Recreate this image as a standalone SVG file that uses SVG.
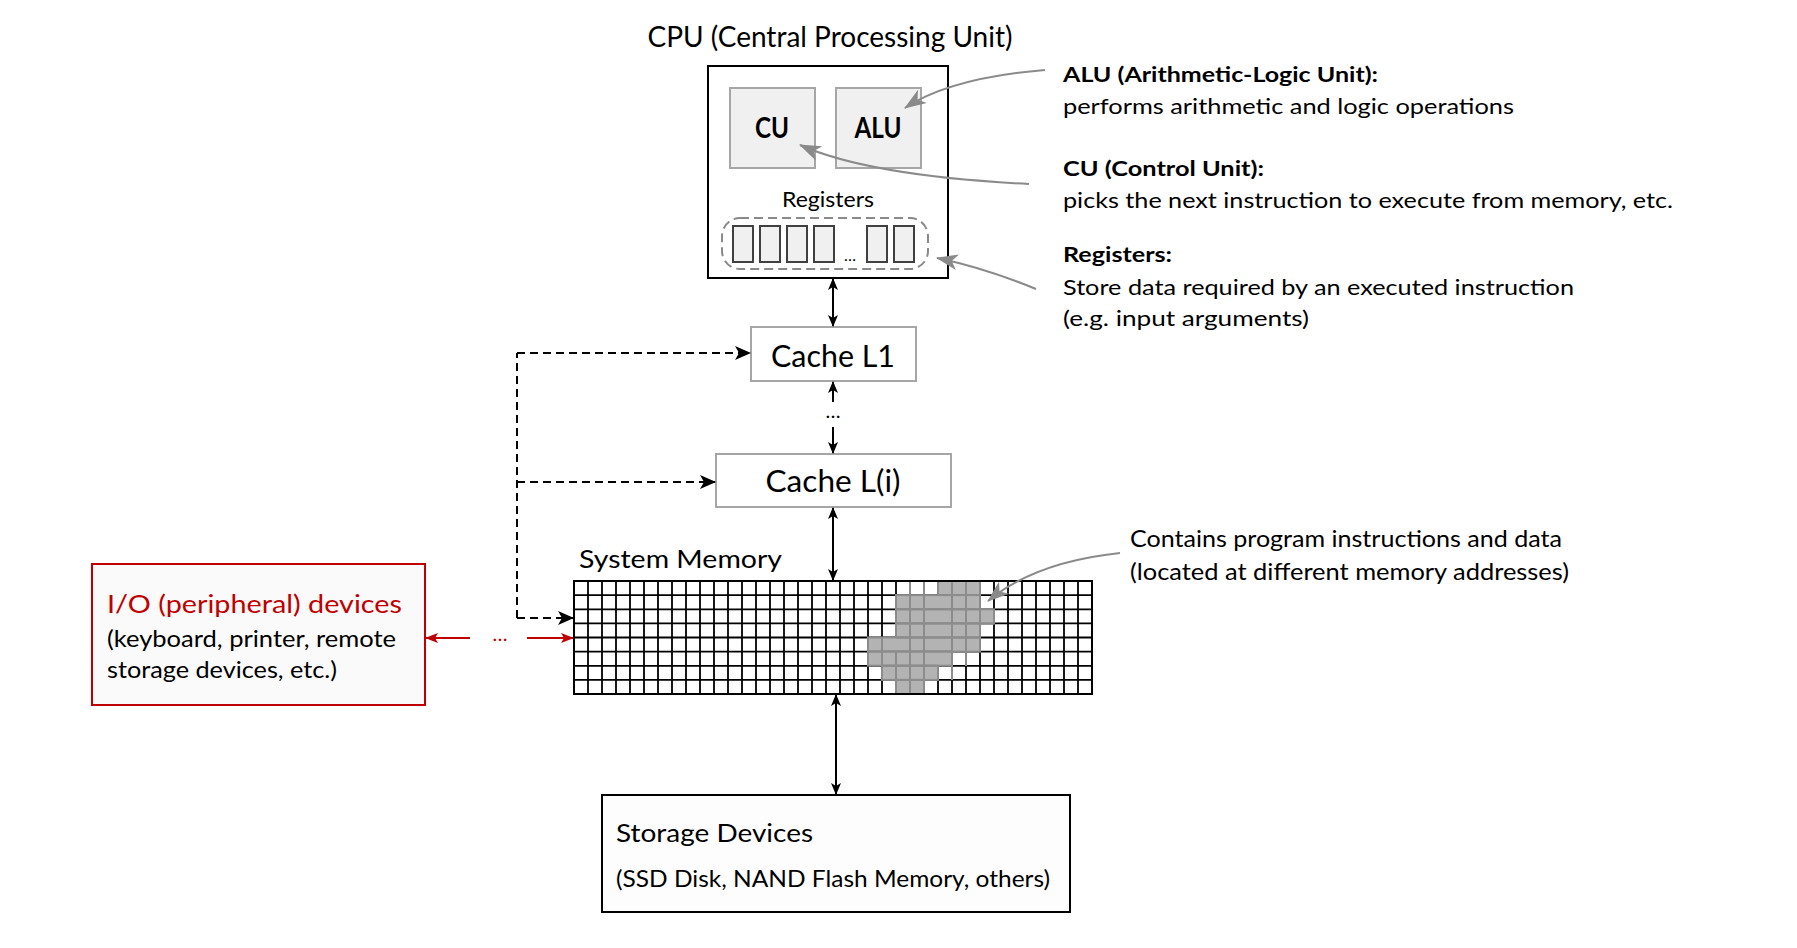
<svg xmlns="http://www.w3.org/2000/svg" width="1797" height="948" viewBox="0 0 1797 948">
<style>
text{font-family:Lato,"Liberation Sans",sans-serif;fill:#000}
.b{font-weight:bold}
.red{fill:#c00000}
.box{fill:#fff;stroke:#a6a6a6;stroke-width:2}
.unit{fill:#f0f0f0;stroke:#a6a6a6;stroke-width:2}
.reg{fill:#f0f0f0;stroke:#404040;stroke-width:2}
.blk{stroke:#000;stroke-width:2;fill:none}
.dash{stroke:#000;stroke-width:2;fill:none;stroke-dasharray:8 5}
.gray{stroke:#8a8a8a;stroke-width:2;fill:none}
.redl{stroke:#c00000;stroke-width:2;fill:none}
.gl{stroke:#000;stroke-width:1.8;fill:none}
.gc{fill:#b3b3b3;stroke:#8c8c8c;stroke-width:2}
</style>
<defs>
<marker id="ah" viewBox="0 0 12 10" refX="11" refY="5" markerWidth="12" markerHeight="10" markerUnits="userSpaceOnUse" orient="auto-start-reverse"><path d="M0,0 L12,5 L0,10 L3,5 z" fill="#000"/></marker>
<marker id="ahd" viewBox="0 0 16 14" refX="15" refY="7" markerWidth="16" markerHeight="14" markerUnits="userSpaceOnUse" orient="auto"><path d="M0,0 L16,7 L0,14 L4,7 z" fill="#000"/></marker>
<marker id="ahg" viewBox="0 0 22 16" refX="21" refY="8" markerWidth="22" markerHeight="16" markerUnits="userSpaceOnUse" orient="auto"><path d="M0,0 L22,8 L0,16 L6,8 z" fill="#8a8a8a"/></marker>
<marker id="ahr" viewBox="0 0 13 10" refX="12" refY="5" markerWidth="13" markerHeight="10" markerUnits="userSpaceOnUse" orient="auto"><path d="M0,0 L13,5 L0,10 L3,5 z" fill="#c00000"/></marker>
</defs>
<rect width="1797" height="948" fill="#fff"/>

<g id="cpu">
<text x="830" y="47" font-size="28" text-anchor="middle" textLength="365" lengthAdjust="spacingAndGlyphs">CPU (Central Processing Unit)</text>
<rect x="708" y="66" width="240" height="212" fill="#fff" stroke="#000" stroke-width="2"/>
<g id="cu"><rect class="unit" x="730" y="88" width="85" height="80"/><text class="b" x="772" y="138" font-size="28" text-anchor="middle" textLength="34" lengthAdjust="spacingAndGlyphs">CU</text></g>
<g id="alu"><rect class="unit" x="836" y="88" width="85" height="80"/><text class="b" x="878" y="138" font-size="28" text-anchor="middle" textLength="47" lengthAdjust="spacingAndGlyphs">ALU</text></g>
<g id="registers">
<text x="828" y="207" font-size="21" text-anchor="middle" textLength="92" lengthAdjust="spacingAndGlyphs">Registers</text>
<rect x="722" y="218" width="206" height="51" rx="18" fill="none" stroke="#8a8a8a" stroke-width="2" stroke-dasharray="9 5"/>
<rect class="reg" x="733" y="226" width="20" height="36"/>
<rect class="reg" x="760" y="226" width="20" height="36"/>
<rect class="reg" x="787" y="226" width="20" height="36"/>
<rect class="reg" x="814" y="226" width="20" height="36"/>
<text x="850" y="261" font-size="16" text-anchor="middle" fill="#333">…</text>
<rect class="reg" x="867" y="226" width="20" height="36"/>
<rect class="reg" x="894" y="226" width="20" height="36"/>
</g>
</g>

<g id="cache-l1"><rect class="box" x="751" y="327" width="165" height="54"/><text x="833" y="367" font-size="30" text-anchor="middle" textLength="124" lengthAdjust="spacingAndGlyphs">Cache L1</text></g>
<g id="cache-li"><rect class="box" x="716" y="454" width="235" height="53"/><text x="833" y="492" font-size="30" text-anchor="middle" textLength="135" lengthAdjust="spacingAndGlyphs">Cache L(i)</text></g>

<g id="memory">
<text x="579" y="568" font-size="25" textLength="203" lengthAdjust="spacingAndGlyphs">System Memory</text>
<path class="gl" d="M588,581V694M602,581V694M616,581V694M630,581V694M644,581V694M658,581V694M672,581V694M686,581V694M700,581V694M714,581V694M728,581V694M742,581V694M756,581V694M770,581V694M784,581V694M798,581V694M812,581V694M826,581V694M840,581V694M854,581V694M868,581V694M882,581V694M896,581V694M910,581V694M924,581V694M938,581V694M952,581V694M966,581V694M980,581V694M994,581V694M1008,581V694M1022,581V694M1036,581V694M1050,581V694M1064,581V694M1078,581V694M574,595.1H1092M574,609.3H1092M574,623.4H1092M574,637.5H1092M574,651.6H1092M574,665.8H1092M574,679.9H1092"/>
<g id="data-cells">
<rect class="gc" x="938" y="581" width="42" height="14.1"/>
<rect class="gc" x="896" y="595.1" width="84" height="14.1"/>
<rect class="gc" x="896" y="609.3" width="98" height="14.1"/>
<rect class="gc" x="896" y="623.4" width="84" height="14.1"/>
<rect class="gc" x="868" y="637.5" width="112" height="14.1"/>
<rect class="gc" x="868" y="651.6" width="84" height="14.1"/>
<rect class="gc" x="882" y="665.8" width="56" height="14.1"/>
<rect class="gc" x="896" y="679.9" width="28" height="14.1"/>
<path d="M910,595.1V694M924,581V694M952,581V680M966,581V666M980,609.3V623.4M882,637.5V666M896,651.6V680M910,581V680M868,651.6H952M882,665.8H938M896,679.9H924M896,609.3H980M896,623.4H994M896,637.5H980M938,595.1H980M952,581V595.1M966,581V595.1" stroke="#8c8c8c" stroke-width="2" fill="none"/>
</g>
<rect x="574" y="581" width="518" height="113" fill="none" stroke="#000" stroke-width="2"/>
</g>

<g id="io">
<rect x="92" y="564" width="333" height="141" fill="#fafafa" stroke="#c00000" stroke-width="2"/>
<text class="red" x="107" y="613" font-size="25" textLength="295" lengthAdjust="spacingAndGlyphs">I/O (peripheral) devices</text>
<text x="107" y="647" font-size="23" textLength="289" lengthAdjust="spacingAndGlyphs">(keyboard, printer, remote</text>
<text x="107" y="678" font-size="23" textLength="230" lengthAdjust="spacingAndGlyphs">storage devices, etc.)</text>
</g>

<g id="storage">
<rect x="602" y="795" width="468" height="117" fill="#fdfdfd" stroke="#000" stroke-width="2"/>
<text x="616" y="842" font-size="25" textLength="197" lengthAdjust="spacingAndGlyphs">Storage Devices</text>
<text x="616" y="887" font-size="23" textLength="434" lengthAdjust="spacingAndGlyphs">(SSD Disk, NAND Flash Memory, others)</text>
</g>

<g id="annotations">
<text class="b" x="1063" y="82" font-size="21" textLength="315" lengthAdjust="spacingAndGlyphs">ALU (Arithmetic-Logic Unit):</text>
<text x="1063" y="114" font-size="21" textLength="451" lengthAdjust="spacingAndGlyphs">performs arithmetic and logic operations</text>
<text class="b" x="1063" y="176" font-size="21" textLength="201" lengthAdjust="spacingAndGlyphs">CU (Control Unit):</text>
<text x="1063" y="208" font-size="21" textLength="610" lengthAdjust="spacingAndGlyphs">picks the next instruction to execute from memory, etc.</text>
<text class="b" x="1063" y="262" font-size="21" textLength="109" lengthAdjust="spacingAndGlyphs">Registers:</text>
<text x="1063" y="295" font-size="21" textLength="511" lengthAdjust="spacingAndGlyphs">Store data required by an executed instruction</text>
<text x="1063" y="326" font-size="21" textLength="246" lengthAdjust="spacingAndGlyphs">(e.g. input arguments)</text>
<text x="1130" y="547" font-size="23" textLength="432" lengthAdjust="spacingAndGlyphs">Contains program instructions and data</text>
<text x="1130" y="580" font-size="23" textLength="439" lengthAdjust="spacingAndGlyphs">(located at different memory addresses)</text>
</g>

<g id="connectors">
<line class="blk" x1="833" y1="279" x2="833" y2="326" marker-start="url(#ah)" marker-end="url(#ah)"/>
<line class="blk" x1="833" y1="402" x2="833" y2="382" marker-end="url(#ah)"/>
<text x="833" y="418" font-size="20" text-anchor="middle">…</text>
<line class="blk" x1="833" y1="427" x2="833" y2="453" marker-end="url(#ah)"/>
<line class="blk" x1="833" y1="508" x2="833" y2="580" marker-start="url(#ah)" marker-end="url(#ah)"/>
<line class="blk" x1="836" y1="695" x2="836" y2="794" marker-start="url(#ah)" marker-end="url(#ah)"/>
<path class="dash" d="M517,618V353"/>
<path class="dash" d="M517,353H750" marker-end="url(#ahd)"/>
<path class="dash" d="M517,482H715" marker-end="url(#ahd)"/>
<path class="dash" d="M517,618H573" marker-end="url(#ahd)"/>
<line class="redl" x1="470" y1="638" x2="426" y2="638" marker-end="url(#ahr)"/>
<text class="red" x="500" y="641" font-size="20" text-anchor="middle">…</text>
<line class="redl" x1="527" y1="638" x2="573" y2="638" marker-end="url(#ahr)"/>
<path class="gray" d="M1045,70 Q950,78 905,108" marker-end="url(#ahg)"/>
<path class="gray" d="M1029,184 Q870,176 800,145" marker-end="url(#ahg)"/>
<path class="gray" d="M1036,289 Q985,268 937,258" marker-end="url(#ahg)"/>
<path class="gray" d="M1120,553 Q1035,562 988,601" marker-end="url(#ahg)"/>
</g>
</svg>
